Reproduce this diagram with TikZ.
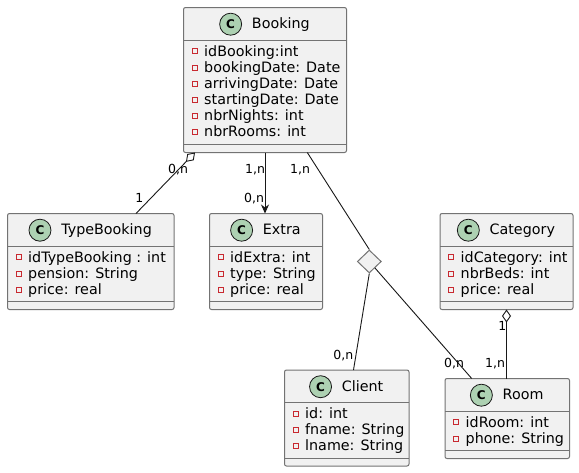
\documentclass[tikz,border=0pt]{standalone}
\usepackage{fontspec}
\setmainfont{DejaVu Sans}
\usetikzlibrary{shapes.geometric, arrows.meta, positioning, calc}
\definecolor{cfill}{HTML}{F1F1F1}
\definecolor{cline}{HTML}{181818}
\definecolor{cgreen}{HTML}{ADD1B2}
\definecolor{cred}{HTML}{C82930}
\tikzset{
  cls/.style = {draw=black!55, fill=cfill, line width=1pt, inner sep=0pt,
    outer sep=0pt, anchor=north west, rounded corners=2pt},
  tit/.style = {inner sep=0pt, anchor=base, text height=10.4pt, text depth=1.8pt,
    font=\fontsize{14.3}{16}\selectfont},
  ico/.style = {circle, draw=cline, fill=cgreen, minimum size=22pt, inner sep=0pt,
    line width=0.8pt, font=\bfseries\fontsize{12}{12}\selectfont},
  atr/.style = {inner sep=0pt, anchor=base west, font=\fontsize{14.3}{16}\selectfont},
  pv/.style = {draw=cred, line width=0.8pt, minimum size=5pt, inner sep=0pt},
  sl/.style = {draw=black!55, line width=1pt},
  lg/.style = {draw=cline, line width=0.9pt},
  ag/.style = {lg, {Diamond[open, length=13pt, width=9pt]}-},
  sa/.style = {lg, -{Stealth[length=9pt, width=8pt, inset=3pt]}},
  tn/.style = {diamond, draw=black!55, fill=cfill, line width=1pt,
    minimum width=24pt, minimum height=23pt, inner sep=0pt},
  lb/.style = {inner sep=0pt, text height=9pt, text depth=0pt,
    font=\fontsize{12.5}{14}\selectfont}
}
% #1 name, #2 left, #3 top, #4 width, #5 height, #6 title, #7 attributes
\newcommand{\umlc}[7]{%
  \node [cls, minimum width=#4pt, minimum height=#5pt] (#1) at (#2,#3) {};
  \node [tit] (#1-t) at ($(#1.north)+(15.8,21)$) {#6};
  \node [ico, left=9.7pt of #1-t] (#1-c) {C};
  \draw [sl] ($(#1.north west)+(0,32.5)$) -- ($(#1.north east)+(0,32.5)$);
  \draw [sl] ($(#1.south west)+(0,-8)$) -- ($(#1.south east)+(0,-8)$);
  \foreach \x [count=\i] in {#7} {
    \node [atr] (#1-a\i) at ($(#1.north west)+(20.5,{48.7+16.1*(\i-1)})$) {\x};
    \node [pv] (#1-p\i) at ($(#1.north west)+(11,{43.8+16.1*(\i-1)})$) {};
  }%
}

\begin{document}
\begin{tikzpicture}[x=1pt, y=-1pt]
  \path [use as bounding box, fill=white] (0,0) rectangle (579,472);
  \umlc{booking}{183.5}{7.5}{163}{145}{Booking}{idBooking:int, bookingDate: Date,
    arrivingDate: Date, startingDate: Date, nbrNights: int, nbrRooms: int}
  \umlc{typeb}{7.5}{213.5}{166.5}{96}{TypeBooking}{idTypeBooking : int,
    pension: String, price: real}
  \umlc{extra}{209.5}{213.5}{113}{96}{Extra}{idExtra: int, type: String, price: real}
  \umlc{category}{440}{213.5}{133}{96}{Category}{idCategory: int, nbrBeds: int,
    price: real}
  \umlc{client}{284.5}{370}{124.5}{96}{Client}{id: int, fname: String, lname: String}
  \umlc{room}{445}{378.5}{124.5}{80}{Room}{idRoom: int, phone: String}
  \node [tn] (tern) at (369.3,261.5) {};
  % links
  \draw [ag] ([xshift=11.5pt]booking.south west) -- ([xshift=128.5pt]typeb.north west);
  \draw [sa] (booking.south) -- (booking.south |- extra.north);
  \draw [lg] ([xshift=123.8pt]booking.south west) -- (tern.north);
  \draw [lg] (tern.south) -- ([xshift=69pt]client.north west);
  \draw [lg] (tern) -- ([xshift=26.7pt]room.north west);
  \draw [ag] (category.south) -- (category.south |- room.north);
  % cardinalities
  \node [lb] (l1) at (178,169.3) {0,n};
  \node [lb] (l2) at (139.3,197.7) {1};
  \node [lb] (l3) at (255,169.3) {1,n};
  \node [lb] (l4) at (254,198.3) {0,n};
  \node [lb] (l5) at (300,169.3) {1,n};
  \node [lb] (l6) at (343.3,355) {0,n};
  \node [lb] (l7) at (454,362.7) {0,n};
  \node [lb] (l8) at (502.3,326) {1};
  \node [lb] (l9) at (495,362.7) {1,n};
\end{tikzpicture}
\end{document}
